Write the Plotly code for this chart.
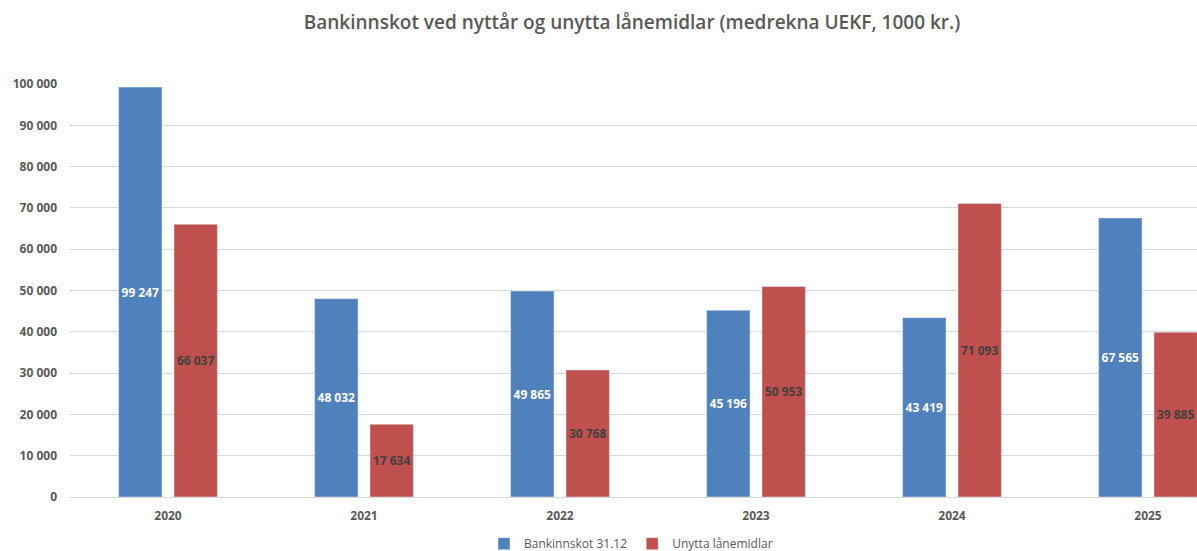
import plotly.graph_objects as go

years = ["2020", "2021", "2022", "2023", "2024", "2025"]
bankinnskot = [99247, 48032, 49865, 45196, 43419, 67565]
unytta = [66037, 17634, 30768, 50953, 71093, 39885]
y_ticks = [0, 10000, 20000, 30000, 40000, 50000, 60000, 70000, 80000, 90000, 100000]

FONT = "Open Sans"
GRAY = "#595959"

fig = go.Figure()
fig.add_trace(go.Bar(
    x=years, y=bankinnskot, name="Bankinnskot 31.12",
    marker=dict(color="#4F81BD"),
    texttemplate="%{y:,d}", textposition="inside", insidetextanchor="middle",
    textangle=0, constraintext="none",
    textfont=dict(family=FONT, size=12, color="white", weight="bold"),
    hoverinfo="skip",
))
fig.add_trace(go.Bar(
    x=years, y=unytta, name="Unytta lånemidlar",
    marker=dict(color="#C0504D"),
    texttemplate="%{y:,d}", textposition="inside", insidetextanchor="middle",
    textangle=0, constraintext="none",
    textfont=dict(family=FONT, size=12, color="#404040", weight="bold"),
    hoverinfo="skip",
))

fig.update_layout(
    width=1197, height=551,
    separators=", ",
    barmode="group", bargap=0.435, bargroupgap=0.216,
    plot_bgcolor="white", paper_bgcolor="white",
    margin=dict(l=70, r=0, t=84, b=54, autoexpand=False),
    uniformtext=dict(minsize=12, mode="show"),
    title=dict(
        text="Bankinnskot ved nyttår og unytta lånemidlar (medrekna UEKF, 1000 kr.)",
        x=632 / 1197, xanchor="center", y=1 - 22 / 551, yanchor="middle",
        font=dict(family=FONT, size=19, color=GRAY, weight=600),
    ),
    legend=dict(
        orientation="h", x=631 / 1197, xref="container", xanchor="center",
        y=-0.113, yanchor="middle",
        font=dict(family=FONT, size=12, color=GRAY),
        itemwidth=30, tracegroupgap=0,
    ),
    xaxis=dict(
        range=[-0.5, 5.25], showgrid=False, showline=True,
        linecolor="#D9D9D9", linewidth=1, ticks="",
        ticklabelstandoff=8, automargin=False,
        tickfont=dict(family=FONT, size=12, color=GRAY, weight="bold"),
    ),
    yaxis=dict(
        range=[0, 100000], tickvals=y_ticks, tickformat=",d",
        showgrid=True, gridcolor="#D9D9D9", gridwidth=1,
        zeroline=False, showline=False, ticks="",
        ticklabelstandoff=12, automargin=False,
        tickfont=dict(family=FONT, size=12, color=GRAY, weight="bold"),
    ),
)

fig.write_html(
    "out.html",
    config={"displayModeBar": False},
    post_script="document.body.style.margin='0';document.body.style.overflow='hidden';",
)
